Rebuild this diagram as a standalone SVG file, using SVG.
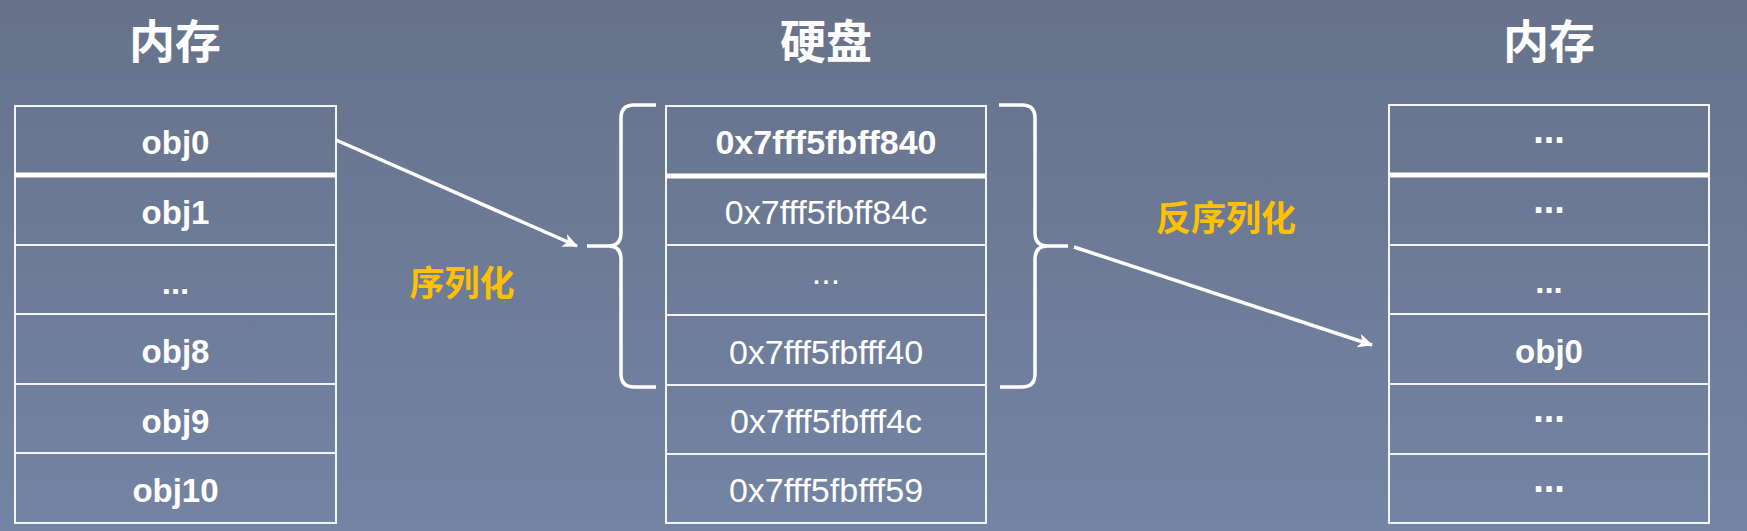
<svg xmlns="http://www.w3.org/2000/svg" width="1747" height="531" viewBox="0 0 1747 531">
<defs>
<linearGradient id="bg" x1="0" y1="0" x2="0" y2="1">
<stop offset="0" stop-color="#67728A"/>
<stop offset="1" stop-color="#7384A4"/>
</linearGradient>
<marker id="ah" markerUnits="userSpaceOnUse" markerWidth="16" markerHeight="14" refX="14" refY="7" orient="auto">
<path d="M0,0 L15,7 L0,14 L4,7 Z" fill="#ffffff"/>
</marker>
</defs>
<style>
.cell{fill:none;stroke:#F2F4F8;stroke-width:2}
.thick{stroke:#ffffff;stroke-width:5}
.t{font-family:"Liberation Sans",Arial,sans-serif;fill:#ffffff;text-anchor:middle}
.b{font-weight:bold;font-size:33px}
.r{font-size:34px}
.dots{font-weight:bold;font-size:38px}
.title{font-family:"Noto Sans CJK SC","Liberation Sans",sans-serif;font-weight:bold;font-size:46px;fill:#ffffff;text-anchor:middle}
.lbl{font-family:"Noto Sans CJK SC","Liberation Sans",sans-serif;font-weight:bold;font-size:35px;fill:#FFC000;text-anchor:middle}
.brace{fill:none;stroke:#ffffff;stroke-width:3.5;stroke-linecap:butt}
.conn{stroke:#ffffff;stroke-width:3.5;fill:none}
</style>
<rect x="0" y="0" width="1747" height="531" fill="url(#bg)"/>

<g id="title-left"><text class="title" x="175" y="58">内存</text></g>
<g id="title-mid"><text class="title" x="826" y="58">硬盘</text></g>
<g id="title-right"><text class="title" x="1549" y="58">内存</text></g>

<g id="mem-left">
<rect class="cell" x="15" y="106" width="321" height="69"/>
<rect class="cell" x="15" y="175" width="321" height="70"/>
<rect class="cell" x="15" y="245" width="321" height="69"/>
<rect class="cell" x="15" y="314" width="321" height="70"/>
<rect class="cell" x="15" y="384" width="321" height="69"/>
<rect class="cell" x="15" y="453" width="321" height="70"/>
<line class="thick" x1="15" y1="175" x2="336" y2="175"/>
<text class="t b" x="175.5" y="154">obj0</text>
<text class="t b" x="175.5" y="224">obj1</text>
<text class="t b" x="175.5" y="294">...</text>
<text class="t b" x="175.5" y="363">obj8</text>
<text class="t b" x="175.5" y="433">obj9</text>
<text class="t b" x="175.5" y="502">obj10</text>
</g>

<g id="disk">
<rect class="cell" x="666" y="106" width="320" height="70"/>
<rect class="cell" x="666" y="176" width="320" height="69"/>
<rect class="cell" x="666" y="245" width="320" height="70"/>
<rect class="cell" x="666" y="315" width="320" height="70"/>
<rect class="cell" x="666" y="385" width="320" height="69"/>
<rect class="cell" x="666" y="454" width="320" height="69"/>
<line class="thick" x1="666" y1="176" x2="986" y2="176"/>
<text class="t b" x="826" y="154" style="font-size:34px">0x7fff5fbff840</text>
<text class="t r" x="826" y="224">0x7fff5fbff84c</text>
<text class="t r" x="826" y="284">...</text>
<text class="t r" x="826" y="364">0x7fff5fbfff40</text>
<text class="t r" x="826" y="433">0x7fff5fbfff4c</text>
<text class="t r" x="826" y="502">0x7fff5fbfff59</text>
</g>

<g id="mem-right">
<rect class="cell" x="1389" y="105" width="320" height="70"/>
<rect class="cell" x="1389" y="175" width="320" height="70"/>
<rect class="cell" x="1389" y="245" width="320" height="69"/>
<rect class="cell" x="1389" y="314" width="320" height="70"/>
<rect class="cell" x="1389" y="384" width="320" height="70"/>
<rect class="cell" x="1389" y="454" width="320" height="69"/>
<line class="thick" x1="1389" y1="175" x2="1709" y2="175"/>
<text class="t dots" x="1549" y="143">...</text>
<text class="t dots" x="1549" y="213">...</text>
<text class="t b" x="1549" y="293">...</text>
<text class="t b" x="1549" y="363">obj0</text>
<text class="t dots" x="1549" y="422">...</text>
<text class="t dots" x="1549" y="492">...</text>
</g>

<g id="brace-left">
<path class="brace" d="M656,105 H634 Q621,105 621,118 V233 Q621,246 608,246 H587 M608,246 Q621,246 621,259 V374 Q621,387 634,387 H656"/>
</g>
<g id="brace-right">
<path class="brace" d="M999,105 H1022 Q1035,105 1035,118 V233 Q1035,246 1048,246 H1068 M1048,246 Q1035,246 1035,259 V374 Q1035,387 1022,387 H1000"/>
</g>

<g id="label-ser"><text class="lbl" x="462" y="296">序列化</text></g>
<g id="label-deser"><text class="lbl" x="1226" y="231">反序列化</text></g>

<g id="connectors">
<line class="conn" x1="336" y1="140" x2="577" y2="246" marker-end="url(#ah)"/>
<line class="conn" x1="1074" y1="247" x2="1372" y2="345" marker-end="url(#ah)"/>
</g>
</svg>
